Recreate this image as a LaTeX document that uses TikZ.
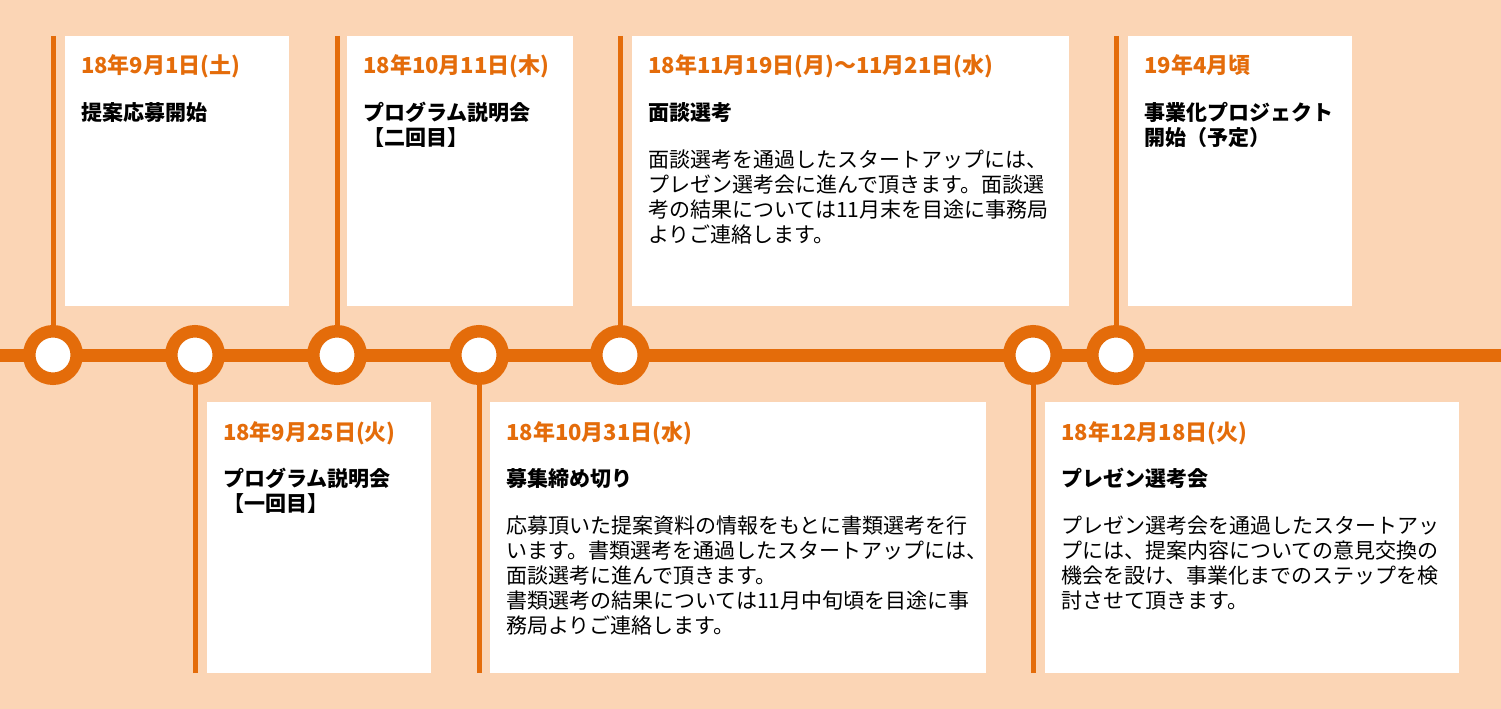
\documentclass[tikz,border=0pt]{standalone}
\usepackage{fontspec}
\setmainfont{Noto Sans CJK JP}
\definecolor{bg}{HTML}{FBD5B5}
\definecolor{org}{HTML}{E46C0A}
\newcommand\lns[1]{\parbox[t]{520pt}{\raggedright #1}}
\begin{document}
\begin{tikzpicture}[x=1pt,y=-1pt,
  box/.style={fill=white,draw=none,anchor=north west,inner sep=0pt},
  ring/.style={circle,draw=org,line width=12.5pt,fill=white,minimum size=47.5pt,inner sep=0pt},
  stem/.style={draw=org,line width=5pt},
  axis/.style={draw=org,line width=13pt},
  txt/.style={anchor=base west,inner sep=0pt,font=\fontsize{21}{25}\selectfont},
  datet/.style={txt,text=org,font=\fontsize{22}{25}\selectfont\bfseries},
  ttl/.style={txt,font=\fontsize{21}{25}\selectfont\bfseries}]
\fill[bg] (0,0) rectangle (1501,709);
\useasboundingbox (0,0) rectangle (1501,709);
% boxes
\node[box,minimum width=224pt,minimum height=270pt] (b1) at (65,36) {};
\node[box,minimum width=224pt,minimum height=271pt] (b2) at (207,402) {};
\node[box,minimum width=226pt,minimum height=270pt] (b3) at (347,36) {};
\node[box,minimum width=496pt,minimum height=271pt] (b4) at (490,402) {};
\node[box,minimum width=437pt,minimum height=270pt] (b5) at (632,36) {};
\node[box,minimum width=414pt,minimum height=271pt] (b6) at (1045,402) {};
\node[box,minimum width=224pt,minimum height=270pt] (b7) at (1128,36) {};
% axis
\coordinate (L) at (0,355);
\coordinate (R) at (1501,355);
\draw[axis] (L) -- (R);
% stem ends
\coordinate (s1) at (53,36);
\coordinate (s2) at (195,673);
\coordinate (s3) at (337,36);
\coordinate (s4) at (479,673);
\coordinate (s5) at (620,36);
\coordinate (s6) at (1033,673);
\coordinate (s7) at (1116,36);
\coordinate (p1) at (53,355);
\coordinate (p2) at (195,355);
\coordinate (p3) at (337,355);
\coordinate (p4) at (479,355);
\coordinate (p5) at (620,355);
\coordinate (p6) at (1033,355);
\coordinate (p7) at (1116,355);
\foreach \i in {1,...,7} {\draw[stem] (s\i) -- (p\i);}
\foreach \i in {1,...,7} {\node[ring] (c\i) at (p\i) {};}
% texts box 1
\node[datet] (d1) at (81,74) {18年9月1日(土)};
\node[ttl] (t1) at (81,120) {提案応募開始};
% box 2
\node[datet] (d2) at (223,440) {18年9月25日(火)};
\node[ttl] (t2) at (223,486) {\lns{プログラム説明会\\【一回目】}};
% box 3
\node[datet] (d3) at (363,74) {18年10月11日(木)};
\node[ttl] (t3) at (363,120) {\lns{プログラム説明会\\【二回目】}};
% box 4
\node[datet] (d4) at (506,440) {18年10月31日(水)};
\node[ttl] (t4) at (506,486) {募集締め切り};
\node[txt] (x4) at (506,533) {\lns{応募頂いた提案資料の情報をもとに書類選考を行\\います。書類選考を通過したスタートアップには、\\面談選考に進んで頂きます。\\書類選考の結果については11月中旬頃を目途に事\\務局よりご連絡します。}};
% box 5
\node[datet] (d5) at (648,74) {18年11月19日(月)～11月21日(水)};
\node[ttl] (t5) at (648,120) {面談選考};
\node[txt] (x5) at (648,167) {\lns{面談選考を通過したスタートアップには、\\プレゼン選考会に進んで頂きます。面談選\\考の結果については11月末を目途に事務局\\よりご連絡します。}};
% box 6
\node[datet] (d6) at (1061,440) {18年12月18日(火)};
\node[ttl] (t6) at (1061,486) {プレゼン選考会};
\node[txt] (x6) at (1061,533) {\lns{プレゼン選考会を通過したスタートアッ\\プには、提案内容についての意見交換の\\機会を設け、事業化までのステップを検\\討させて頂きます。}};
% box 7
\node[datet] (d7) at (1144,74) {19年4月頃};
\node[ttl] (t7) at (1144,120) {\lns{事業化プロジェクト\\開始（予定）}};
\end{tikzpicture}
\end{document}
